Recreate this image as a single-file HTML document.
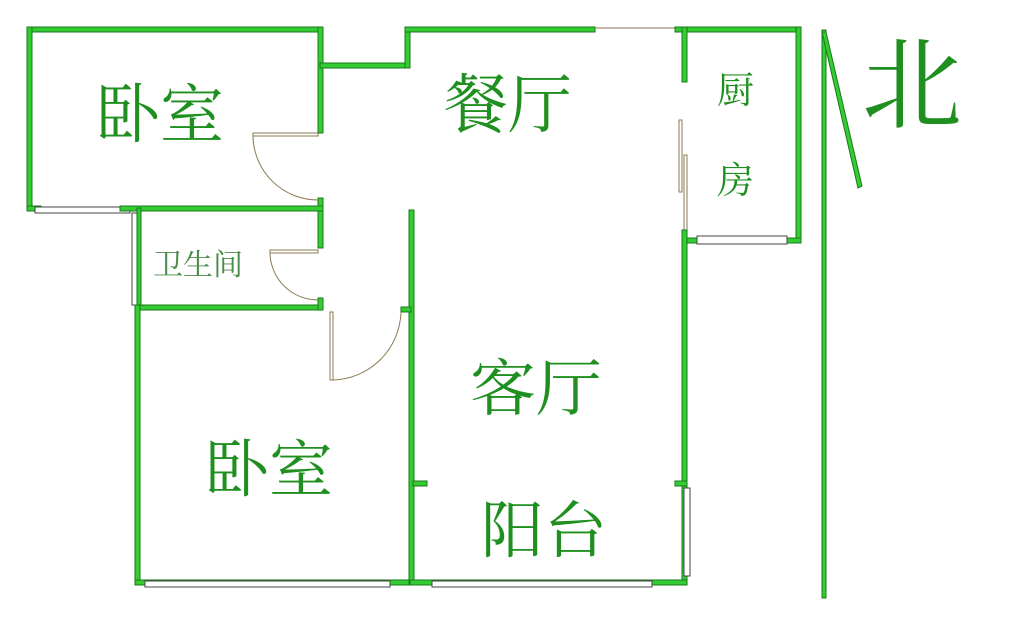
<!DOCTYPE html>
<html><head><meta charset="utf-8"><style>
body{margin:0;background:#fff;width:1024px;height:633px;overflow:hidden}
svg{display:block}
.w{fill:#33cc33;stroke:#1a7a1a;stroke-width:1}
.win{fill:#fff;stroke:#444;stroke-width:1}
.d{fill:none;stroke:#8a7a50;stroke-width:1}
text{font-family:"Liberation Serif","Noto Serif CJK SC",serif;fill:#1f8f1f}
</style></head><body>
<svg width="1024" height="633" viewBox="0 0 1024 633">
<rect class="w" x="27" y="27" width="296" height="5"/>
<rect class="w" x="27" y="27" width="5" height="184"/>
<rect class="w" x="318" y="27" width="5" height="106"/>
<rect class="w" x="318" y="198" width="5" height="50"/>
<rect class="w" x="27" y="206" width="14" height="5"/>
<rect class="win" x="35" y="207" width="95" height="6"/>
<rect class="w" x="120" y="206" width="203" height="5"/>
<rect class="w" x="320" y="63" width="90" height="5"/>
<rect class="w" x="405" y="27" width="5" height="41"/>
<rect class="w" x="405" y="27" width="190" height="5"/>
<line x1="595" y1="28" x2="675" y2="28" stroke="#8a7a50" stroke-width="1"/>
<rect class="w" x="675" y="27" width="126" height="5"/>
<rect class="w" x="682" y="27" width="5" height="55"/>
<rect class="w" x="796" y="27" width="5" height="216"/>
<rect class="w" x="682" y="238" width="119" height="5"/>
<rect class="win" x="697" y="236" width="90" height="8"/>
<rect class="d" x="679" y="120" width="3" height="72"/>
<rect class="d" x="684" y="155" width="3" height="75"/>
<rect class="w" x="682" y="230" width="5" height="350"/>
<path class="d" d="M253 133 L318 133 L318 136 L253 136 Z"/>
<path class="d" d="M253 136 A65 65 0 0 0 318 200"/>
<rect class="win" x="132" y="213" width="6" height="92"/>
<rect class="w" x="137" y="208" width="4" height="102"/>
<rect class="w" x="137" y="305" width="186" height="5"/>
<path class="d" d="M270 250 L318 250 L318 253 L270 253 Z"/>
<path class="d" d="M270 253 A48 48 0 0 0 318 300"/>
<rect class="w" x="318" y="298" width="5" height="12"/>
<rect class="w" x="135" y="305" width="5" height="280"/>
<rect class="w" x="135" y="580" width="280" height="5"/>
<rect class="win" x="145" y="581" width="245" height="6"/>
<rect class="w" x="409" y="210" width="5" height="375"/>
<rect class="w" x="401" y="307" width="10" height="5"/>
<path class="d" d="M330 312 L333 312 L333 380 L330 380 Z"/>
<path class="d" d="M333 380 A70 70 0 0 0 401 312"/>
<rect class="w" x="413" y="481" width="14" height="5"/>
<rect class="w" x="410" y="580" width="277" height="5"/>
<rect class="win" x="432" y="581" width="220" height="6"/>
<rect class="w" x="675" y="481" width="12" height="5"/>
<rect class="win" x="684" y="488" width="6" height="88"/>
<rect class="w" x="822" y="30" width="4" height="568"/>
<polygon class="w" points="822,32 826,32 862,186 858,188"/>
<text x="96" y="137" font-size="64">卧室</text>
<text x="444" y="127" font-size="64">餐厅</text>
<text x="717" y="103" font-size="37">厨</text>
<text x="717" y="193" font-size="37">房</text>
<text x="153" y="275" font-size="30" style="fill:#4a8a4a">卫生间</text>
<text x="470" y="410" textLength="132" lengthAdjust="spacingAndGlyphs" font-size="62">客厅</text>
<text x="205" y="491" textLength="128" lengthAdjust="spacingAndGlyphs" font-size="62">卧室</text>
<text x="481" y="552" textLength="126" lengthAdjust="spacingAndGlyphs" font-size="62">阳台</text>
<text x="862" y="120" font-size="100">北</text>
</svg>
</body></html>
